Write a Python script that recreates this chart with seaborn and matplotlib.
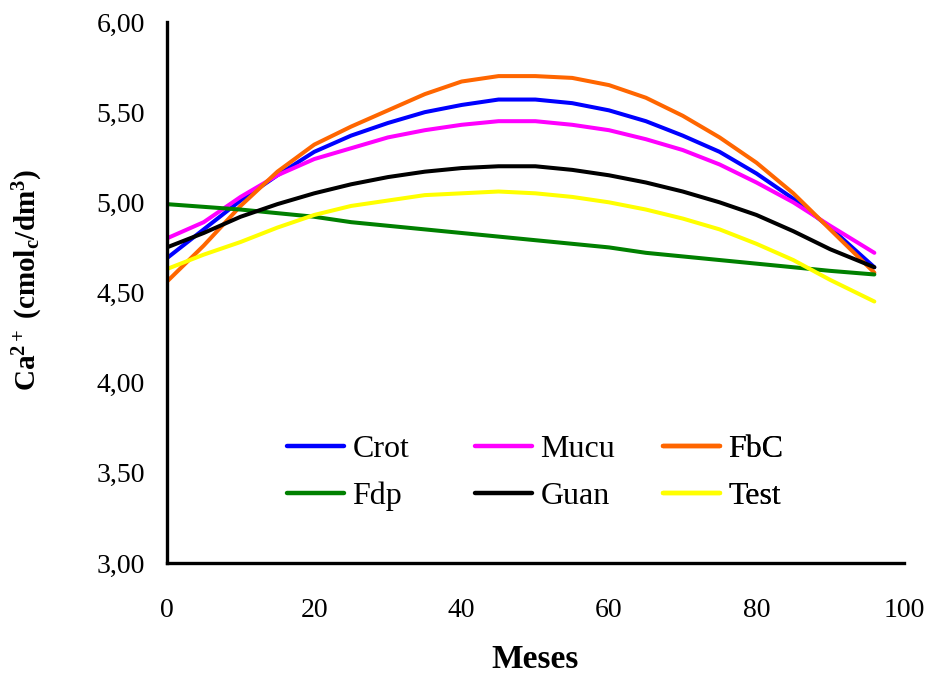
import numpy as np
import pandas as pd
import matplotlib
matplotlib.use("Agg")
import matplotlib.pyplot as plt
import seaborn as sns

meses = [0, 5, 10, 15, 20, 25, 30, 35, 40, 45, 50, 55, 60, 65, 70, 75, 80, 85, 90, 96]

crot = [4.69, 4.85, 5.01, 5.15, 5.28, 5.37, 5.44, 5.50, 5.54, 5.57, 5.57, 5.55, 5.51, 5.45, 5.37, 5.28, 5.16, 5.02, 4.86, 4.64]
mucu = [4.80, 4.89, 5.03, 5.15, 5.24, 5.30, 5.36, 5.40, 5.43, 5.45, 5.45, 5.43, 5.40, 5.35, 5.29, 5.21, 5.11, 5.00, 4.87, 4.72]
fbc = [4.56, 4.76, 4.98, 5.17, 5.32, 5.42, 5.51, 5.60, 5.67, 5.70, 5.70, 5.69, 5.65, 5.58, 5.48, 5.36, 5.22, 5.05, 4.85, 4.61]
fdp = [4.99, 4.975, 4.96, 4.94, 4.92, 4.89, 4.87, 4.85, 4.83, 4.81, 4.79, 4.77, 4.75, 4.72, 4.70, 4.68, 4.66, 4.64, 4.62, 4.60]
guan = [4.75, 4.83, 4.92, 4.99, 5.05, 5.10, 5.14, 5.17, 5.19, 5.20, 5.20, 5.18, 5.15, 5.11, 5.06, 5.00, 4.93, 4.84, 4.74, 4.64]
test = [4.63, 4.71, 4.78, 4.86, 4.93, 4.98, 5.01, 5.04, 5.05, 5.06, 5.05, 5.03, 5.00, 4.96, 4.91, 4.85, 4.77, 4.68, 4.57, 4.45]

series = ["Crot", "Mucu", "FbC", "Fdp", "Guan", "Test"]
cores = ["#0000FF", "#FF00FF", "#FF6600", "#008000", "#000000", "#FFFF00"]

df = pd.concat([
    pd.DataFrame({"Meses": meses, "Ca": vals, "trat": nome})
    for nome, vals in zip(series, [crot, mucu, fbc, fdp, guan, test])
])

sns.set_style("white")
plt.rcParams.update({
    "font.family": ["Liberation Serif", "DejaVu Serif"],
    "text.color": "black",
    "axes.labelcolor": "black",
    "xtick.color": "black",
    "ytick.color": "black",
    "mathtext.fontset": "custom",
    "mathtext.rm": "Liberation Serif:bold",
    "mathtext.it": "Liberation Serif:bold",
    "mathtext.bf": "Liberation Serif:bold",
})

fig = plt.figure(figsize=(9.27, 6.77), dpi=100)
ax = fig.add_axes([0.180, 0.1684, 0.795, 0.7991])

sns.lineplot(data=df, x="Meses", y="Ca", hue="trat", hue_order=series,
             palette=dict(zip(series, cores)), linewidth=2.9, legend=False, ax=ax)

ax.set_xlim(0, 100)
ax.set_ylim(3.0, 6.0)
ax.set_xticks(np.arange(0, 101, 20))
ax.set_yticks(np.arange(3.0, 6.01, 0.5))
ax.set_yticklabels([f"{v:.2f}".replace(".", ",") for v in np.arange(3.0, 6.01, 0.5)])
ax.tick_params(direction="out", length=9, width=2, labelsize=20)
ax.tick_params(axis="x", pad=16)
ax.tick_params(axis="y", pad=7)
for s in ["top", "right"]:
    ax.spines[s].set_visible(False)
for s in ["left", "bottom"]:
    ax.spines[s].set_linewidth(2.4)
    ax.spines[s].set_color("black")

ax.set_xlabel("Meses", fontsize=24, fontweight="bold")
ax.xaxis.set_label_coords(0.499, -0.150)
ax.set_ylabel(r"Ca$^{2+}$ (cmol$_{c}$/dm$^{3}$)", fontsize=21, fontweight="bold")
ax.yaxis.set_label_coords(-0.166, 0.523)

# legend: three fixed columns, two rows each
lines = dict(zip(series, ax.get_lines()))
colunas = [["Crot", "Fdp"], ["Mucu", "Guan"], ["FbC", "Test"]]
x_col = [0.1628, 0.4179, 0.6730]
for nomes, xc in zip(colunas, x_col):
    hs = [plt.Line2D([], [], color=lines[n].get_color(), linewidth=3.2) for n in nomes]
    leg = ax.legend(hs, nomes, loc="center left", bbox_to_anchor=(xc, 0.1664),
                    frameon=False, fontsize=23, handlelength=1.8, handletextpad=0.25,
                    labelspacing=0.55, borderpad=0, borderaxespad=0)
    ax.add_artist(leg)

fig.savefig("out.png", dpi=100)
